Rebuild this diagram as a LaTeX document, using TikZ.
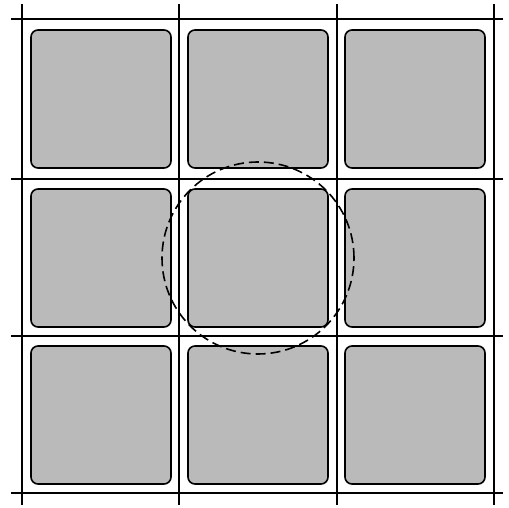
\documentclass[tikz,border=0pt]{standalone}
\begin{document}
\begin{tikzpicture}[x=1pt,y=1pt,
  gridline/.style={line width=1.2pt},
  cell/.style={draw,line width=1.6pt,rounded corners=7pt,fill=black!27,
    minimum width=140pt,minimum height=138pt,inner sep=0pt},
  zone/.style={draw,circle,line width=1.6pt,dash pattern=on 10pt off 5pt,
    minimum size=192pt,inner sep=0pt}]
  \useasboundingbox (0,0) rectangle (509,508);
  % grid lines
  \foreach \x in {22,179,337,494}
    \draw[gridline] (\x,3) -- (\x,504);
  \foreach \y in {489,329,172,15}
    \draw[gridline] (11,\y) -- (503,\y);
  % cells
  \foreach \i/\cx in {0/101,1/258,2/415}
    \foreach \j/\cy in {0/409,1/250,2/93}
      \node[cell] (sq\i\j) at (\cx,\cy) {};
  \node[zone] (area) at (sq11) {};
\end{tikzpicture}
\end{document}
